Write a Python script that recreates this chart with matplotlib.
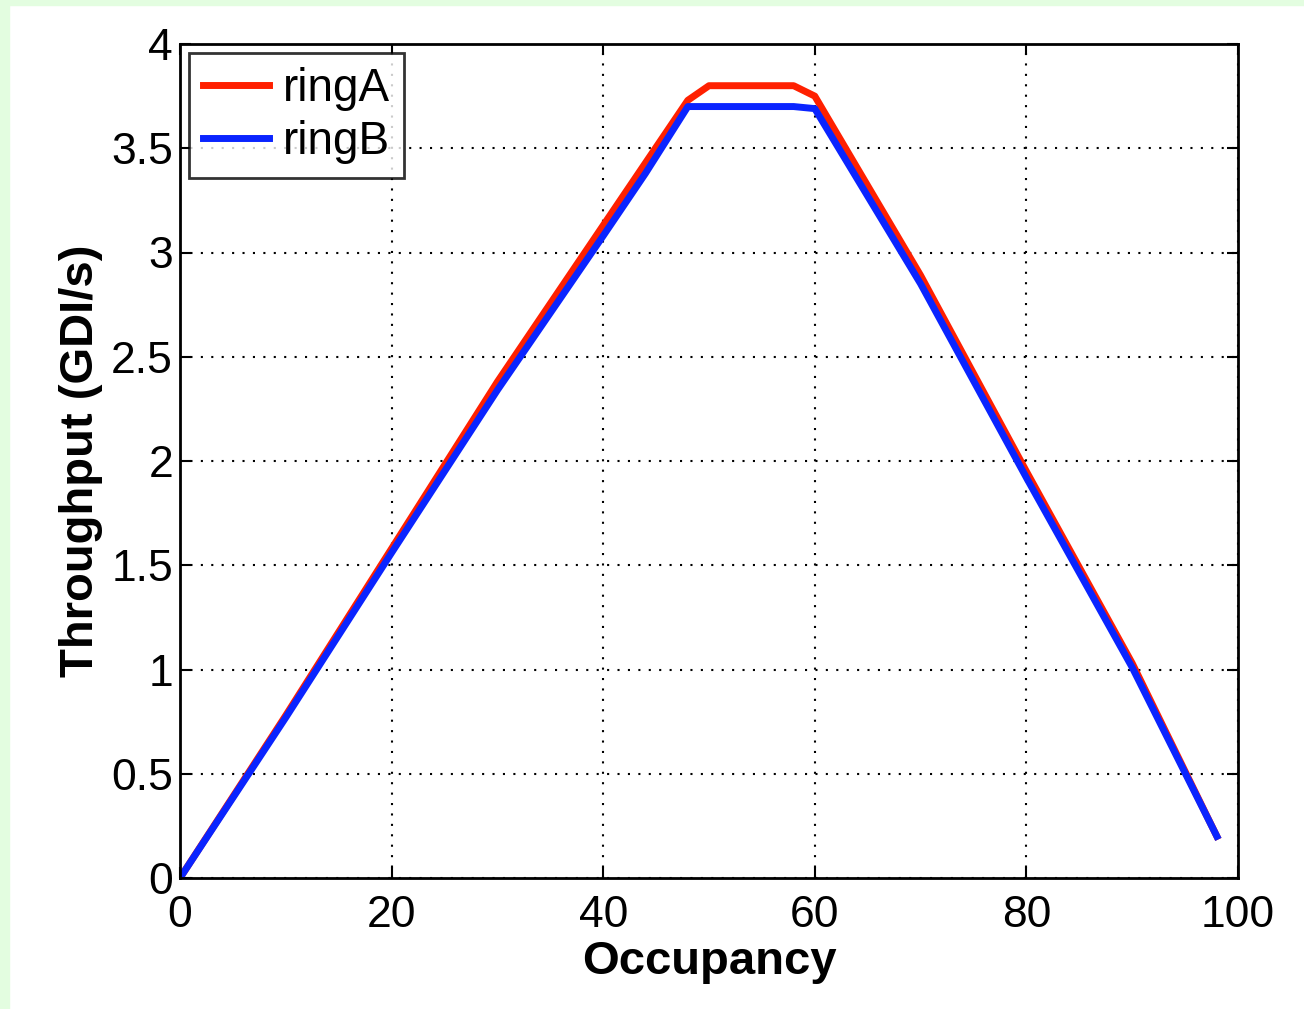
import matplotlib
matplotlib.use("Agg")
import matplotlib.pyplot as plt
from matplotlib.patches import Rectangle

occupancy = [0, 10, 20, 30, 40, 44, 48, 50, 58, 60, 70, 80, 90, 98]
ringA = [0, 0.78, 1.58, 2.38, 3.13, 3.43, 3.73, 3.80, 3.80, 3.75, 2.89, 1.95, 1.03, 0.20]
ringB = [0, 0.77, 1.56, 2.34, 3.08, 3.38, 3.70, 3.70, 3.70, 3.69, 2.85, 1.92, 1.01, 0.20]

x_ticks = [0, 20, 40, 60, 80, 100]
y_ticks = [0, 0.5, 1, 1.5, 2, 2.5, 3, 3.5, 4]
y_labels = ["0", "0.5", "1", "1.5", "2", "2.5", "3", "3.5", "4"]

plt.rcParams['font.family'] = ['Liberation Sans', 'DejaVu Sans']

W, H = 1304, 1009
fig = plt.figure(figsize=(W / 100, H / 100), dpi=100)
fig.patch.set_facecolor("white")
green = "#e3fde0"
fig.patches.append(Rectangle((0, 0), 9 / W, 1, transform=fig.transFigure, color=green, zorder=-10))
fig.patches.append(Rectangle((0, 1 - 5 / H), 1, 5 / H, transform=fig.transFigure, color=green, zorder=-10))

ax = fig.add_axes([180 / W, 1 - 878 / H, (1238 - 180) / W, (878 - 44) / H])
ax.plot(occupancy, ringA, color="#ff2000", lw=5, label="ringA", solid_joinstyle="round")
ax.plot(occupancy, ringB, color="#0a24ff", lw=5, label="ringB", solid_joinstyle="round")

ax.set_xlim(0, 100)
ax.set_ylim(0, 4)
ax.set_xticks(x_ticks)
ax.set_xticklabels([str(v) for v in x_ticks])
ax.set_yticks(y_ticks)
ax.set_yticklabels(y_labels)
ax.tick_params(direction="in", length=8, width=1.5, labelsize=32, top=True, right=True)
ax.tick_params(axis="x", pad=12)
ax.tick_params(axis="y", pad=5)
ax.grid(True, color="black", linestyle=(0, (1, 4)), lw=1.5)
for s in ax.spines.values():
    s.set_linewidth(2)
ax.set_xlabel("Occupancy", fontsize=34, fontweight="bold", labelpad=3)
ax.set_ylabel("Throughput (GDI/s)", fontsize=34, fontweight="bold", labelpad=6)

leg = ax.legend(loc="upper left", fontsize=33, frameon=True, fancybox=False, handlelength=1.45,
                borderaxespad=0.2, borderpad=0.3, labelspacing=0.2, handletextpad=0.3)
leg.get_frame().set_edgecolor("black")
leg.get_frame().set_linewidth(2)

fig.savefig("out.png", dpi=100, facecolor=fig.get_facecolor())
